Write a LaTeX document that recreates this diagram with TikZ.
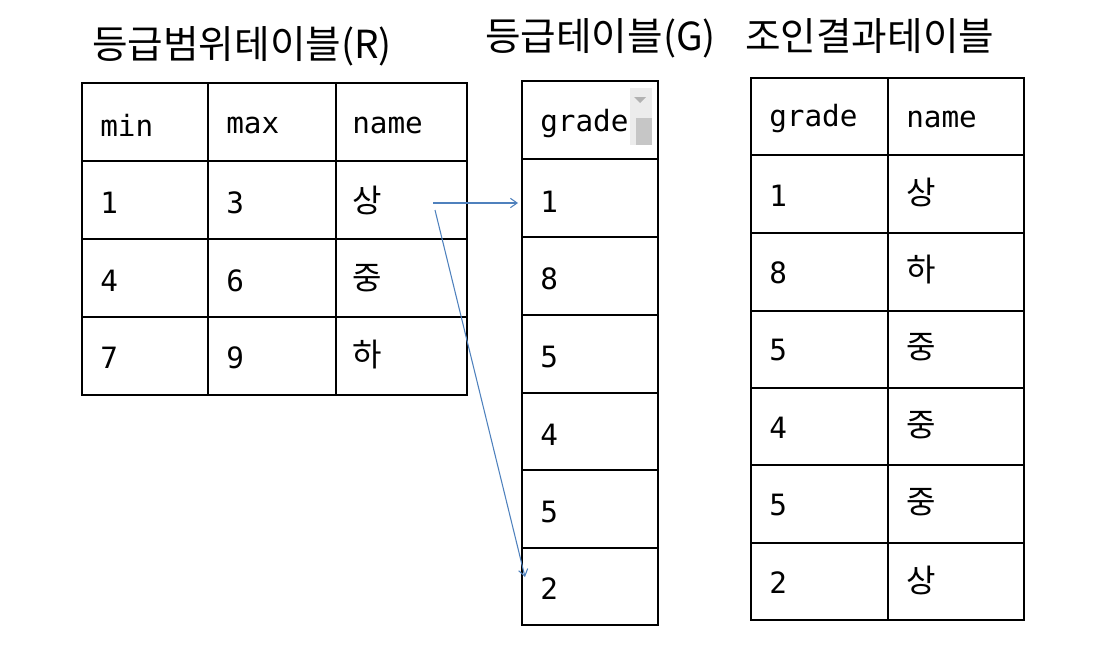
\documentclass[tikz,border=0pt]{standalone}
\usepackage{fontspec}
\setmonofont{DejaVu Sans Mono}
\newfontfamily\kr{Noto Sans CJK KR}
\usetikzlibrary{arrows.meta}
\definecolor{arr}{RGB}{79,129,189}
\begin{document}
\begin{tikzpicture}[x=0.75pt,y=-0.75pt,
  cell/.style={anchor=west,font=\fontsize{22}{26}\selectfont\ttfamily,inner sep=0},
  kcell/.style={anchor=west,font=\fontsize{24}{28}\selectfont\kr,inner sep=0},
  ttl/.style={anchor=west,font=\fontsize{29}{32}\selectfont\kr,inner sep=0},
  grid/.style={draw,line width=1.5pt},
  link/.style={draw=arr,line width=0.8pt,-{Straight Barb[length=5pt,width=7pt]}}]
\useasboundingbox (0,0) rectangle (1104,664);
% titles
\node[ttl] (tR) at (92,46) {등급범위테이블(R)};
\node[ttl] (tG) at (485,38) {등급테이블(G)};
\node[ttl] (tJ) at (745,36) {조인결과테이블};
% table R
\draw[grid] (82,83) rectangle (467,395);
\foreach \x in {208,336} \draw[grid] (\x,83) -- (\x,395);
\foreach \y in {161,239,317} \draw[grid] (82,\y) -- (467,\y);
\node[cell] (r00) at (100,125) {min};
\node[cell] (r01) at (226,125) {max};
\node[cell] (r02) at (352,125) {name};
\node[cell] (r10) at (100,203) {1};
\node[cell] (r11) at (226,203) {3};
\node[kcell] (r12) at (352,200) {상};
\node[cell] (r20) at (100,281) {4};
\node[cell] (r21) at (226,281) {6};
\node[kcell] (r22) at (352,278) {중};
\node[cell] (r30) at (100,358) {7};
\node[cell] (r31) at (226,358) {9};
\node[kcell] (r32) at (352,355) {하};
% table G
\draw[grid] (522,81) rectangle (658,625);
\foreach \y in {159,237,315,393,470,548} \draw[grid] (522,\y) -- (658,\y);
\node[cell] (g0) at (540,124) {grade};
\fill[gray!15] (630,88) rectangle (652,145);
\fill[gray!45] (636,118) rectangle (652,145);
\fill[gray!60] (634,97) -- (646,97) -- (640,103) -- cycle;
\node[cell] (g1) at (540,202) {1};
\node[cell] (g2) at (540,279) {8};
\node[cell] (g3) at (540,357) {5};
\node[cell] (g4) at (540,435) {4};
\node[cell] (g5) at (540,512) {5};
\node[cell] (g6) at (540,589) {2};
\coordinate (g6w) at (525,577);
% table J
\draw[grid] (751,78) rectangle (1024,620);
\draw[grid] (888,78) -- (888,620);
\foreach \y in {155,233,311,388,465,543} \draw[grid] (751,\y) -- (1024,\y);
\node[cell] (j00) at (769,119) {grade};
\node[cell] (j01) at (906,119) {name};
\foreach \v/\n [count=\i] in {1/상,8/하,5/중,4/중,5/중,2/상}{
  \node[cell] (ja\i) at (769,{118+77.5*\i}) {\v};
  \node[kcell] (jb\i) at (906,{115+77.5*\i}) {\n};
}
% arrows
\coordinate (s1) at (433,203);
\coordinate (s2) at (435,210);
\draw[link] (s1) -- (518,203);
\draw[link] (s2) -- (g6w);
\end{tikzpicture}
\end{document}
